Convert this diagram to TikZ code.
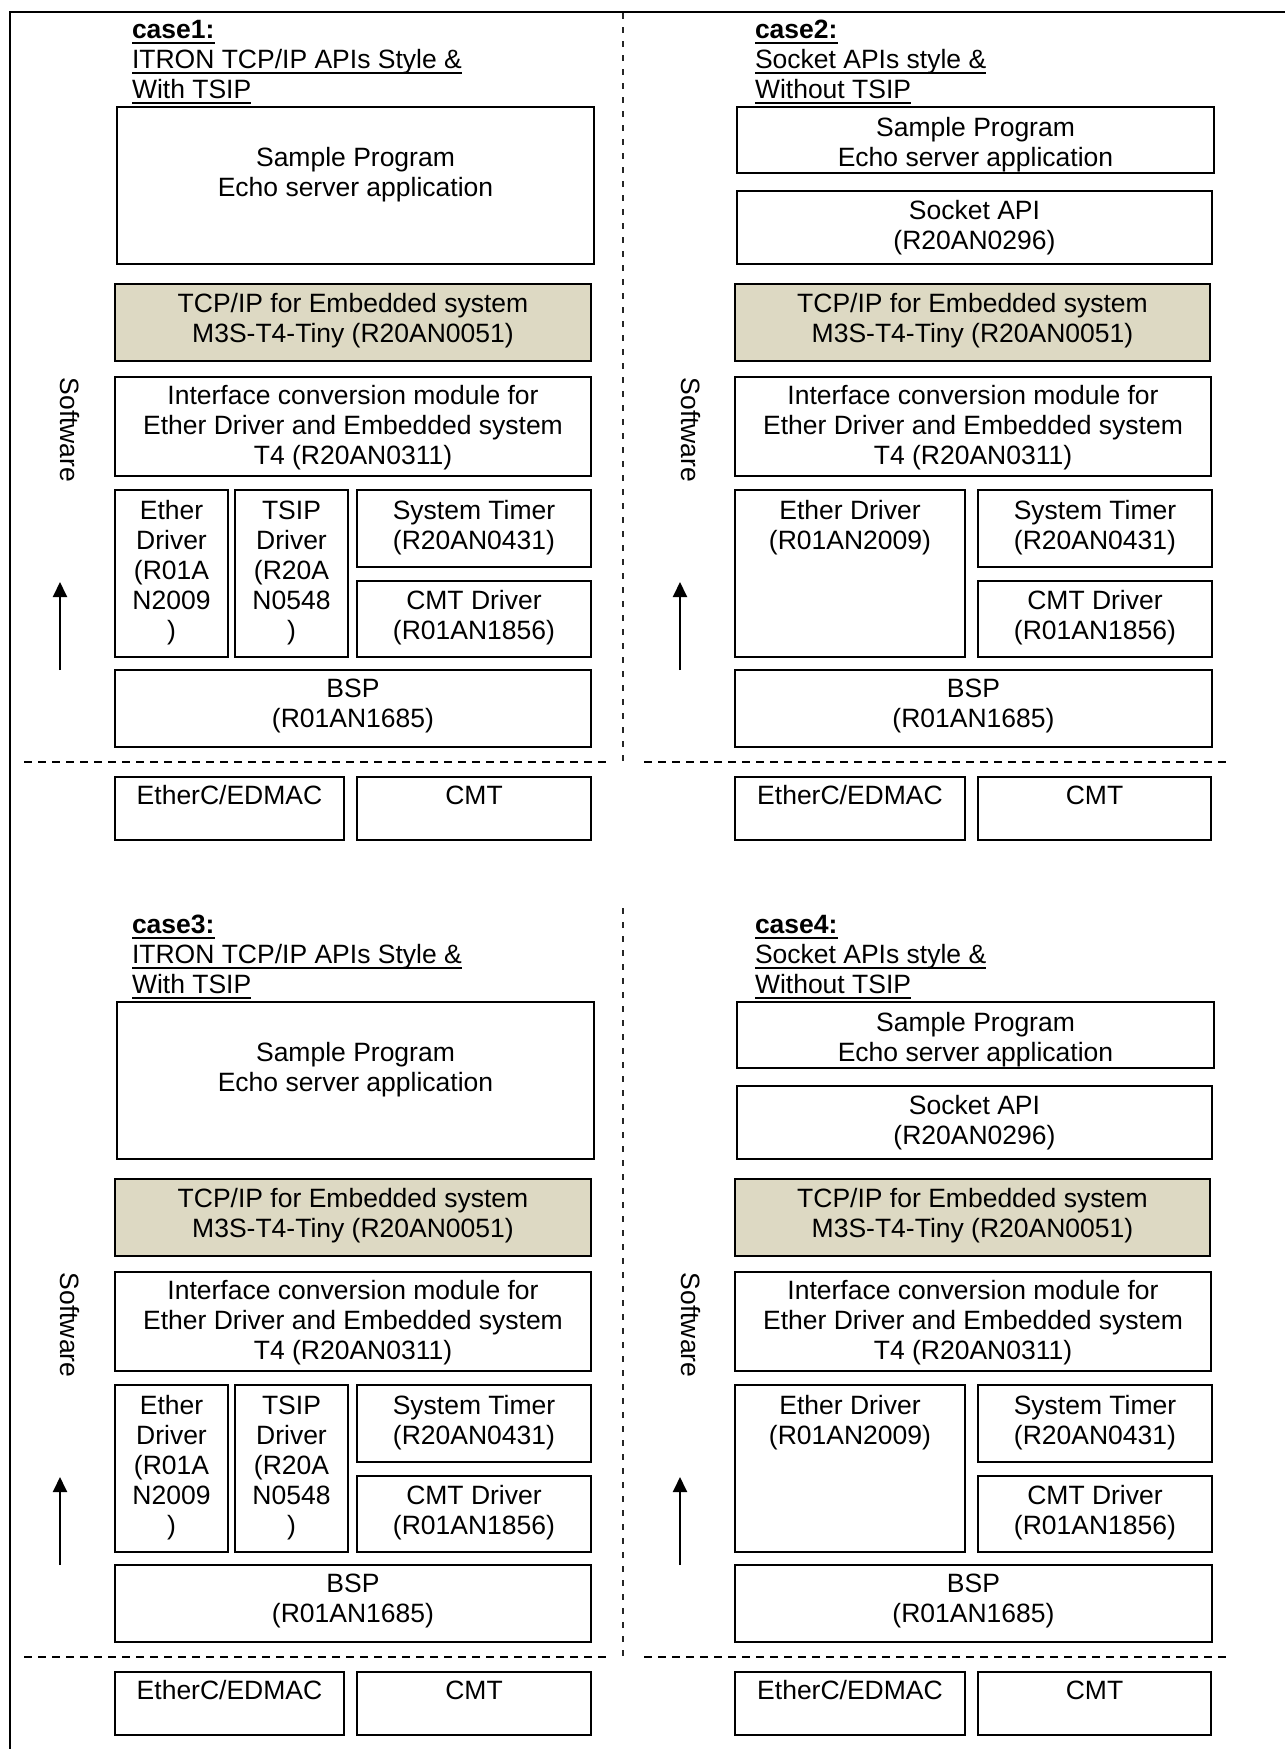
\documentclass[tikz,border=0pt]{standalone}
\usepackage{fontspec}
\setmainfont{Liberation Sans}
\usetikzlibrary{arrows.meta}
\definecolor{tanfill}{HTML}{DDD9C3}
\newcommand{\lns}[1]{\begin{tabular}[t]{@{}c@{}}#1\end{tabular}}
\newcommand{\ffs}{\fontsize{26.5}{30}\selectfont}
\tikzset{
  box/.style={draw=black, line width=2pt, anchor=north west, inner sep=0pt, outer sep=0pt, text height=19pt, font=\ffs},
  tanbox/.style={box, fill=tanfill},
  hdr/.style={anchor=base west, inner sep=0pt, outer sep=0pt, font=\ffs},
  hdrb/.style={anchor=base west, inner sep=0pt, outer sep=0pt, font=\bfseries\ffs},
  uline/.style={line width=2.5pt},
  vdash/.style={line width=1.8pt, dash pattern=on 6pt off 8pt, black!85},
  hdash/.style={line width=2pt, dash pattern=on 8pt off 6pt},
  frameline/.style={line width=2.7pt},
  swlabel/.style={rotate=-90, inner sep=0pt, font=\ffs},
  uparrow/.style={line width=2pt, -{Triangle[width=14pt,length=15pt]}},
}
% left-type case (ITRON, with TSIP)
\newcommand{\caseL}[3]{%
\begin{scope}[yshift=#2]
\node[hdrb] (#1h1) at (132,38) {case#3:};
\node[hdr] (#1h2) at (132,68) {ITRON TCP/IP APIs Style \&};
\node[hdr] (#1h3) at (132,98) {With TSIP};
\draw[uline] ([yshift=-5pt]#1h1.base west) -- ([yshift=-5pt]#1h1.base east);
\draw[uline] ([yshift=-5pt]#1h2.base west) -- ([yshift=-5pt]#1h2.base east);
\draw[uline] ([yshift=-5pt]#1h3.base west) -- ([yshift=-5pt]#1h3.base east);
\node[box, minimum width=477pt, minimum height=157pt, text depth=57pt] (#1sp) at (117,107) {\lns{Sample Program\\Echo server application}};
\node[tanbox, minimum width=476pt, minimum height=77pt, text depth=39pt] (#1tcp) at (115,284) {\lns{TCP/IP for Embedded system\\M3S-T4-Tiny (R20AN0051)}};
\node[box, minimum width=476pt, minimum height=99pt, text depth=63pt] (#1ifc) at (115,377) {\lns{Interface conversion module for\\Ether Driver and Embedded system\\T4 (R20AN0311)}};
\node[box, minimum width=113pt, minimum height=167pt, text depth=127pt] (#1eth) at (115,490) {\lns{Ether\\Driver\\(R01A\\N2009\\)}};
\node[box, minimum width=113pt, minimum height=167pt, text depth=127pt] (#1tsip) at (235,490) {\lns{TSIP\\Driver\\(R20A\\N0548\\)}};
\node[box, minimum width=234pt, minimum height=77pt, text depth=37pt] (#1st) at (357,490) {\lns{System Timer\\(R20AN0431)}};
\node[box, minimum width=234pt, minimum height=76pt, text depth=38pt] (#1cmtd) at (357,581) {\lns{CMT Driver\\(R01AN1856)}};
\node[box, minimum width=476pt, minimum height=77pt, text depth=41pt] (#1bsp) at (115,670) {\lns{BSP\\(R01AN1685)}};
\node[box, minimum width=229pt, minimum height=63pt, text depth=27pt] (#1hwe) at (115,777) {\lns{EtherC/EDMAC}};
\node[box, minimum width=234pt, minimum height=63pt, text depth=27pt] (#1hwc) at (357,777) {\lns{CMT}};
\node[swlabel] (#1sw) at (70,430) {Software};
\coordinate (#1a0) at (60,670);
\coordinate (#1a1) at (60,582);
\draw[uparrow] (#1a0) -- (#1a1);
\coordinate (#1v0) at (623,13);
\coordinate (#1v1) at (623,762);
\draw[vdash] (#1v0) -- (#1v1);
\coordinate (#1d0) at (24,762);
\coordinate (#1d1) at (607,762);
\draw[hdash] (#1d0) -- (#1d1);
\end{scope}}
% right-type case (Socket, without TSIP)
\newcommand{\caseR}[3]{%
\begin{scope}[yshift=#2]
\node[hdrb] (#1h1) at (755,38) {case#3:};
\node[hdr] (#1h2) at (755,68) {Socket APIs style \&};
\node[hdr] (#1h3) at (755,98) {Without TSIP};
\draw[uline] ([yshift=-5pt]#1h1.base west) -- ([yshift=-5pt]#1h1.base east);
\draw[uline] ([yshift=-5pt]#1h2.base west) -- ([yshift=-5pt]#1h2.base east);
\draw[uline] ([yshift=-5pt]#1h3.base west) -- ([yshift=-5pt]#1h3.base east);
\node[box, minimum width=477pt, minimum height=66pt, text depth=26pt] (#1sp) at (737,107) {\lns{Sample Program\\Echo server application}};
\node[box, minimum width=475pt, minimum height=73pt, text depth=35pt] (#1sock) at (737,191) {\lns{Socket API\\(R20AN0296)}};
\node[tanbox, minimum width=475pt, minimum height=77pt, text depth=39pt] (#1tcp) at (735,284) {\lns{TCP/IP for Embedded system\\M3S-T4-Tiny (R20AN0051)}};
\node[box, minimum width=476pt, minimum height=99pt, text depth=63pt] (#1ifc) at (735,377) {\lns{Interface conversion module for\\Ether Driver and Embedded system\\T4 (R20AN0311)}};
\node[box, minimum width=230pt, minimum height=167pt, text depth=127pt] (#1eth) at (735,490) {\lns{Ether Driver\\(R01AN2009)}};
\node[box, minimum width=234pt, minimum height=77pt, text depth=37pt] (#1st) at (978,490) {\lns{System Timer\\(R20AN0431)}};
\node[box, minimum width=234pt, minimum height=76pt, text depth=38pt] (#1cmtd) at (978,581) {\lns{CMT Driver\\(R01AN1856)}};
\node[box, minimum width=477pt, minimum height=77pt, text depth=41pt] (#1bsp) at (735,670) {\lns{BSP\\(R01AN1685)}};
\node[box, minimum width=230pt, minimum height=63pt, text depth=27pt] (#1hwe) at (735,777) {\lns{EtherC/EDMAC}};
\node[box, minimum width=233pt, minimum height=63pt, text depth=27pt] (#1hwc) at (978,777) {\lns{CMT}};
\node[swlabel] (#1sw) at (691,430) {Software};
\coordinate (#1a0) at (680,670);
\coordinate (#1a1) at (680,582);
\draw[uparrow] (#1a0) -- (#1a1);
\coordinate (#1d0) at (644,762);
\coordinate (#1d1) at (1226,762);
\draw[hdash] (#1d0) -- (#1d1);
\end{scope}}
\begin{document}
\begin{tikzpicture}[x=1pt, y=-1pt]
\fill[white] (0,0) rectangle (1285,1749);
\useasboundingbox (0,0) rectangle (1285,1749);
\coordinate (fTL) at (10,12);
\coordinate (fTR) at (1285,12);
\coordinate (fBL) at (10,1749);
\draw[frameline] (fTR) -- (fTL) -- (fBL);
\caseL{c1}{0pt}{1}
\caseR{c2}{0pt}{2}
\caseL{c3}{-895pt}{3}
\caseR{c4}{-895pt}{4}
\end{tikzpicture}
\end{document}
